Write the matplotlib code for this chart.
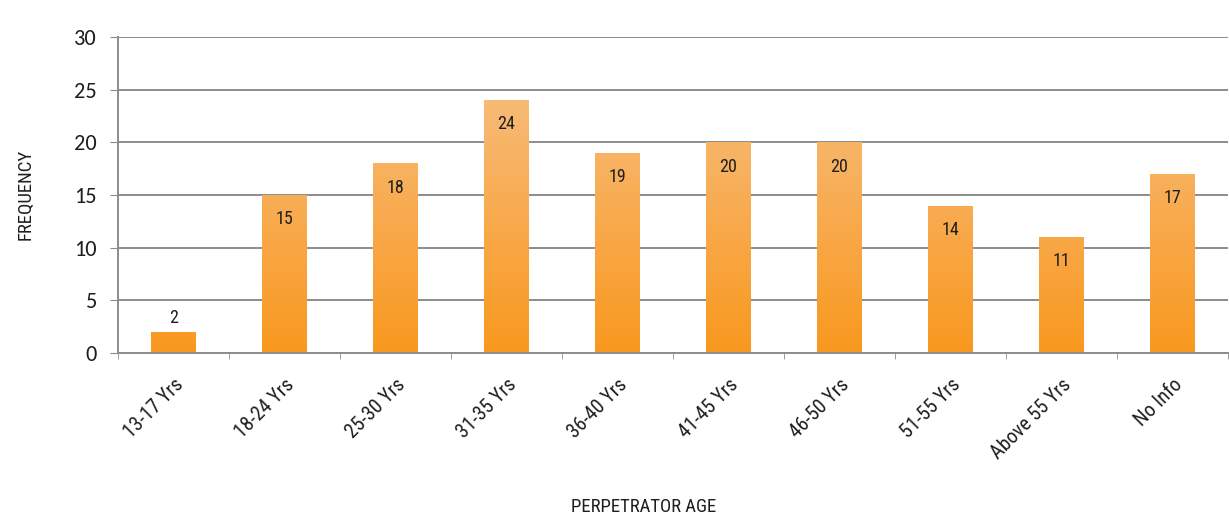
import numpy as np
import matplotlib.pyplot as plt
from matplotlib.colors import LinearSegmentedColormap

categories = ["13-17 Yrs", "18-24 Yrs", "25-30 Yrs", "31-35 Yrs", "36-40 Yrs",
              "41-45 Yrs", "46-50 Yrs", "51-55 Yrs", "Above 55 Yrs", "No Info"]
frequency = [2, 15, 18, 24, 19, 20, 20, 14, 11, 17]

narrow = ["Roboto Condensed", "DejaVu Sans"]
regular = ["Carlito", "DejaVu Sans"]
grid_col = "#8c8c8c"
text_col = "#1e1e1e"

fig = plt.figure(figsize=(12.29, 5.21), dpi=100)
ax = fig.add_axes([0.096, 0.3224, 0.903, 0.6066])

x = np.arange(len(categories))
bars = ax.bar(x, frequency, width=0.405, color="#f7ad5c", zorder=2)

# vertical gradient: strong orange at the bottom, pale at the top
cmap = LinearSegmentedColormap.from_list("og", ["#f9981f", "#f7c38c"])
for b in bars:
    x0, w, h = b.get_x(), b.get_width(), b.get_height()
    grad = np.linspace(0, h / 30.0, 256).reshape(-1, 1)
    im = ax.imshow(grad, cmap=cmap, vmin=0, vmax=1, origin="lower",
                   aspect="auto", extent=[x0, x0 + w, 0, h], zorder=2.5)
    im.set_clip_path(b)

for xi, v in zip(x, frequency):
    if v > 3:
        ax.text(xi, v - 2.3, str(v), ha="center", va="center", fontsize=13,
                family=narrow, color=text_col, zorder=4)
    else:
        ax.text(xi, v + 1.3, str(v), ha="center", va="center", fontsize=13,
                family=narrow, color=text_col, zorder=4)

ax.set_xlim(-0.5, len(categories) - 0.5)
ax.set_ylim(0, 30)
ax.set_yticks(range(0, 31, 5))
ax.set_yticklabels([str(t) for t in range(0, 31, 5)], family=regular,
                   fontsize=16, color=text_col)
ax.yaxis.grid(True, color=grid_col, linewidth=1.4, zorder=0)
ax.set_axisbelow(True)

ax.set_xticks(x)
ax.set_xticklabels(categories, rotation=45, ha="right", rotation_mode="anchor",
                   fontsize=14.5, family=narrow, color=text_col)
ax.tick_params(axis="x", length=0, pad=16)
ax.set_xticks(np.arange(-0.5, len(categories)), minor=True)
ax.tick_params(axis="x", which="minor", length=4, color=grid_col)
ax.tick_params(axis="y", length=6, color=grid_col, pad=9)

for s in ["top", "right"]:
    ax.spines[s].set_visible(False)
for s in ["left", "bottom"]:
    ax.spines[s].set_color(grid_col)
    ax.spines[s].set_linewidth(1.4)

fig.text(0.5236, 0.027, "PERPETRATOR AGE", ha="center", va="center",
         fontsize=13.5, family=narrow, color=text_col)
fig.text(0.0205, 0.6276, "FREQUENCY", ha="center", va="center", rotation=90,
         fontsize=13.5, family=narrow, color=text_col)

fig.savefig("out.png", dpi=100)
